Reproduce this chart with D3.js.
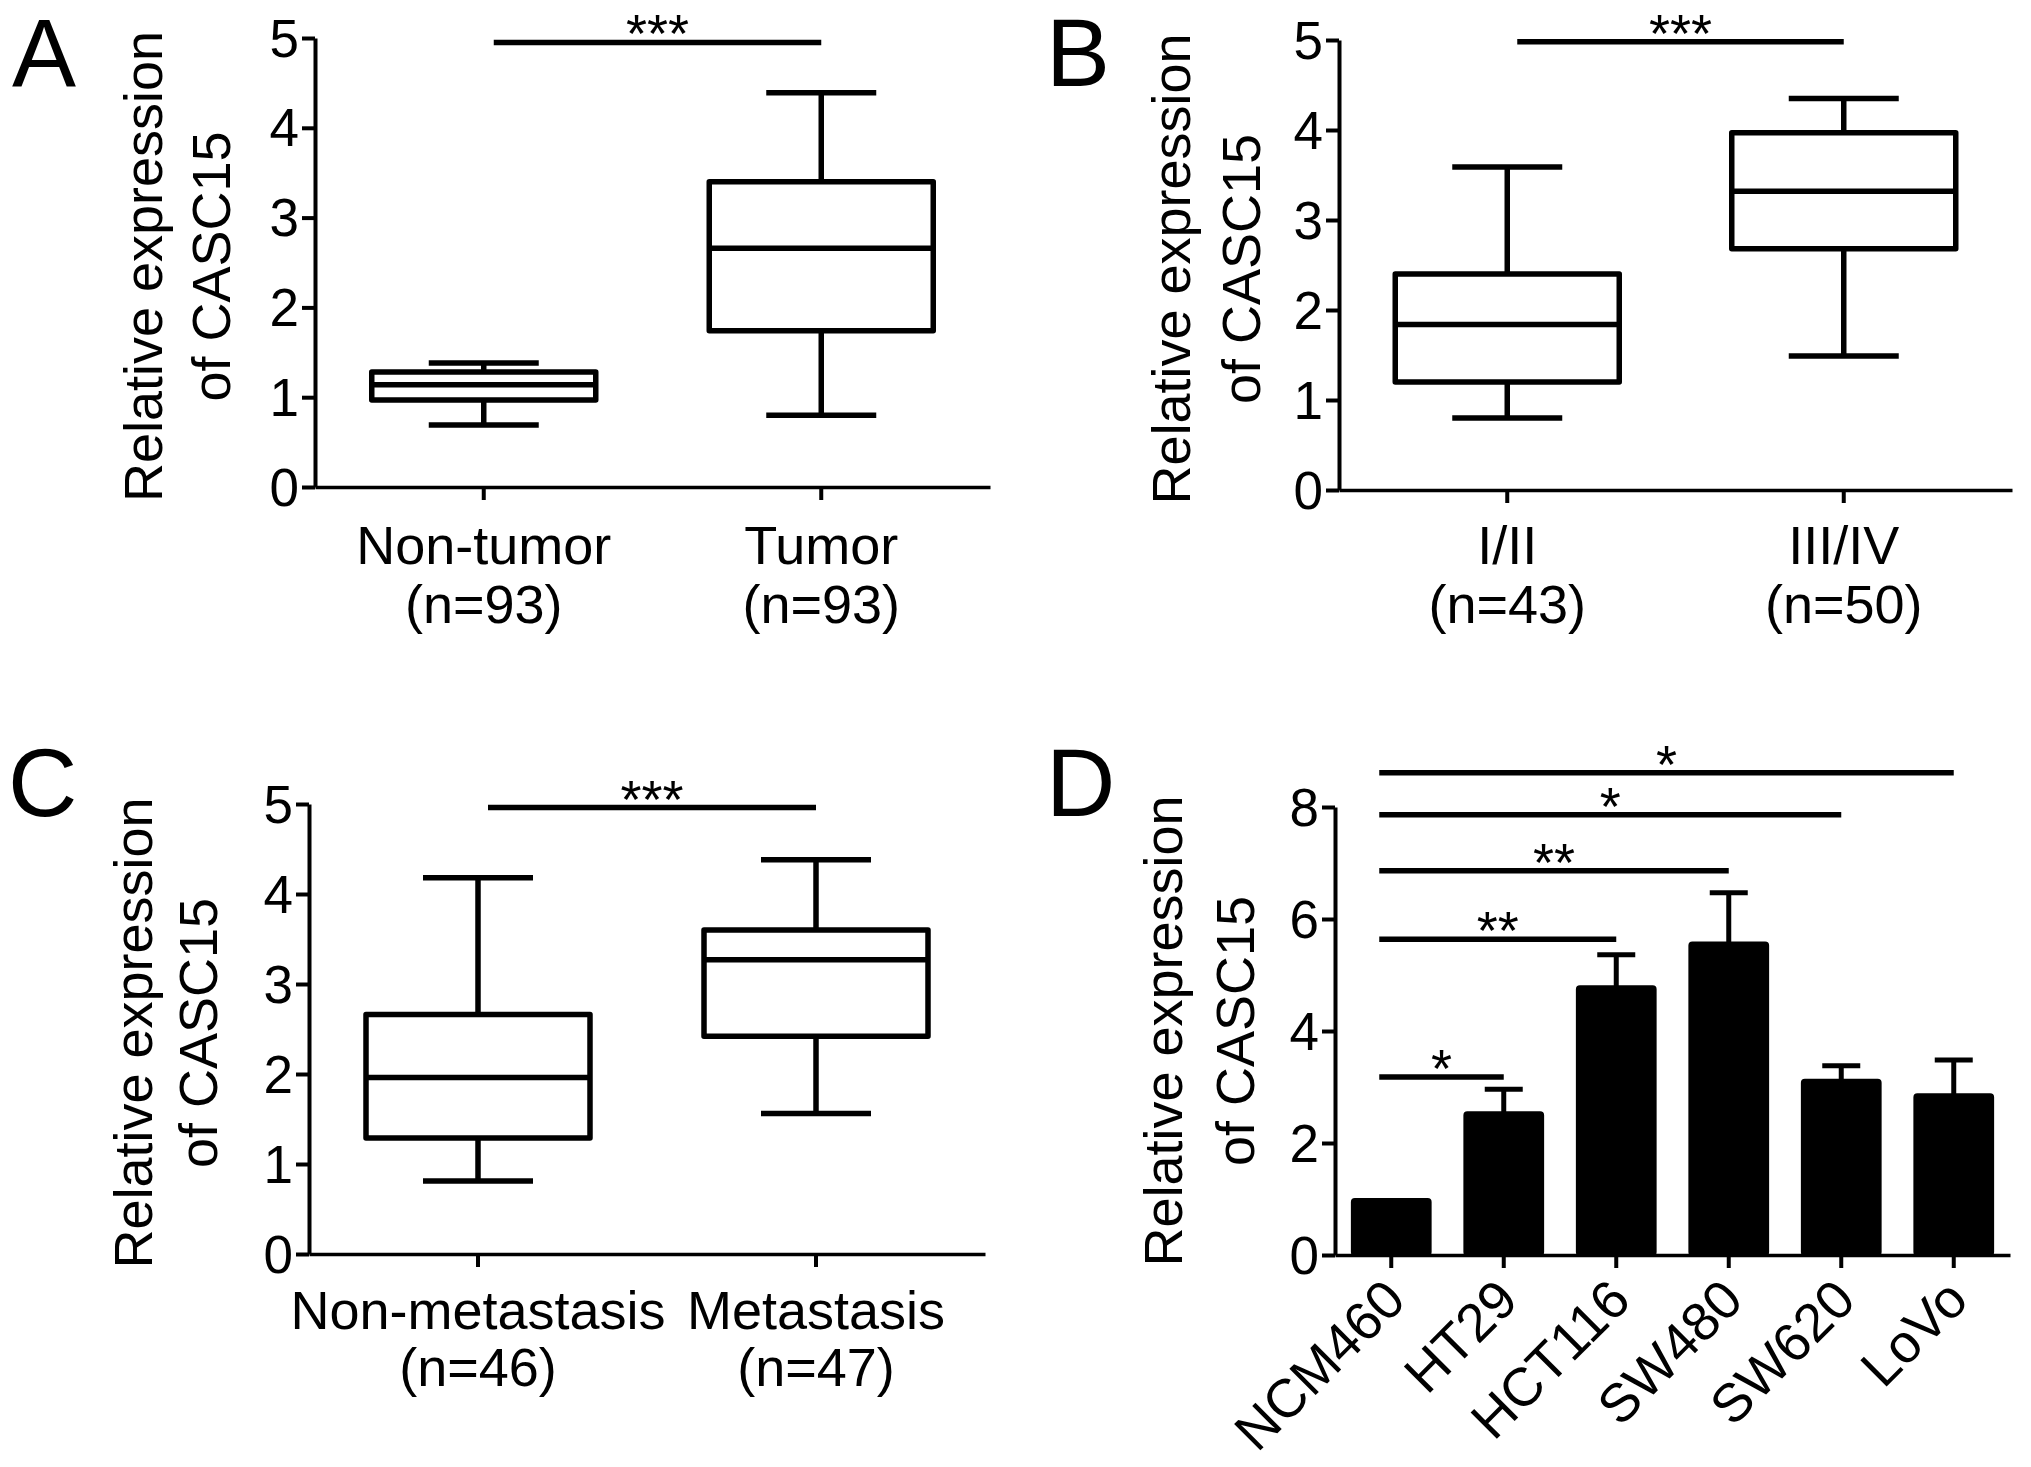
<!DOCTYPE html>
<html>
<head>
<meta charset="utf-8">
<script src="https://cdn.jsdelivr.net/npm/d3@7"></script>
<style>
  html, body { margin: 0; padding: 0; background: #fff; }
  svg { display: block; }
  text { font-family: "Liberation Sans", Arial, Helvetica, sans-serif; fill: #000; }
</style>
</head>
<body>
<svg id="chart" width="2031" height="1467"></svg>
<script>
// ---------------- DATA ----------------
// Box plots: [whiskerLow, Q1, median, Q3, whiskerHigh]
const catsA = ["Non-tumor", "Tumor"];
const nA = ["(n=93)", "(n=93)"];
const boxesA = [[0.69, 0.97, 1.14, 1.28, 1.38], [0.80, 1.74, 2.66, 3.40, 4.39]];
const sigA = { value: 4.95, label: "***" };

const catsB = ["I/II", "III/IV"];
const nB = ["(n=43)", "(n=50)"];
const boxesB = [[0.80, 1.20, 1.84, 2.40, 3.59], [1.49, 2.68, 3.32, 3.97, 4.35]];
const sigB = { value: 4.98, label: "***" };

const catsC = ["Non-metastasis", "Metastasis"];
const nC = ["(n=46)", "(n=47)"];
const boxesC = [[0.81, 1.29, 1.96, 2.66, 4.18], [1.56, 2.42, 3.27, 3.60, 4.38]];
const sigC = { value: 4.96, label: "***" };

const ticksABC = [0, 1, 2, 3, 4, 5];

const catsD = ["NCM460", "HT29", "HCT116", "SW480", "SW620", "LoVo"];
const meansD = [1.00, 2.55, 4.80, 5.58, 3.13, 2.87];
const semD = [0, 0.41, 0.56, 0.89, 0.25, 0.61];
const sigTargetsD = ["HT29", "HCT116", "SW480", "SW620", "LoVo"];
const sigValuesD = [3.18, 5.64, 6.86, 7.86, 8.61];
const sigLabelsD = ["*", "**", "**", "*", "*"];
const ticksD = [0, 2, 4, 6, 8];

const yTitle1 = "Relative expression";
const yTitle2 = "of CASC15";

// ---------------- DRAWING ----------------
const svg = d3.select("#chart");
const FS = 54;    // labels
const FT = 53;    // tick labels
const FSR = 54;   // rotated title
const LW = 5.5;   // box / significance line width

function htext(g, x, y, str, size, anchor) {
  return g.append("text")
    .attr("x", x).attr("y", y)
    .attr("text-anchor", anchor || "middle")
    .style("font-size", size + "px")
    .text(str);
}

function yAxis(g, y, x0, ticks) {
  const ax = g.append("g").attr("transform", `translate(${x0},0)`)
    .call(d3.axisLeft(y).tickValues(ticks).tickSize(13).tickSizeOuter(0).tickPadding(4).tickFormat(d3.format("d")));
  ax.attr("font-family", null).attr("font-size", null);
  ax.select(".domain").attr("stroke", "#000").attr("stroke-width", 4);
  ax.selectAll(".tick line").attr("stroke", "#000").attr("stroke-width", 4);
  ax.selectAll(".tick text")
    .attr("x", -16).attr("dy", "0.34em")
    .style("font-size", FT + "px").attr("fill", "#000");
  return ax;
}

function xAxis(g, x, y0) {
  const ax = g.append("g").attr("transform", `translate(0,${y0})`)
    .call(d3.axisBottom(x).tickSize(13).tickSizeOuter(0).tickFormat(""));
  ax.select(".domain").attr("stroke", "#000").attr("stroke-width", 3.5);
  ax.selectAll(".tick line").attr("stroke", "#000").attr("stroke-width", 4);
  return ax;
}

function yTitles(g, xb1, xb2, cy) {
  g.append("text").attr("transform", `translate(${xb1},${cy}) rotate(-90)`)
    .attr("text-anchor", "middle").style("font-size", FSR + "px").text(yTitle1);
  g.append("text").attr("transform", `translate(${xb2},${cy}) rotate(-90)`)
    .attr("text-anchor", "middle").style("font-size", FSR + "px").text(yTitle2);
}

function boxPanel(L, cats, ns, boxes, sig) {
  const g = svg.append("g");
  const x = d3.scaleBand().domain(cats).range([L.x0, L.x1]).padding(0);
  const y = d3.scaleLinear().domain([0, 5]).range([L.y0, L.y5]);
  const cx = d => x(d) + x.bandwidth() / 2;
  const BW = 112, CW = 55;

  yAxis(g, y, L.x0, ticksABC);
  xAxis(g, x, L.y0);

  const bx = g.selectAll("g.box").data(cats.map((c, i) => ({ c, b: boxes[i] }))).join("g")
    .attr("fill", "none").attr("stroke", "#000").attr("stroke-width", LW)
    .attr("stroke-linejoin", "round");
  bx.append("line").attr("x1", d => cx(d.c)).attr("x2", d => cx(d.c))
    .attr("y1", d => y(d.b[0])).attr("y2", d => y(d.b[1]));
  bx.append("line").attr("x1", d => cx(d.c)).attr("x2", d => cx(d.c))
    .attr("y1", d => y(d.b[3])).attr("y2", d => y(d.b[4]));
  bx.append("line").attr("x1", d => cx(d.c) - CW).attr("x2", d => cx(d.c) + CW)
    .attr("y1", d => y(d.b[0])).attr("y2", d => y(d.b[0]));
  bx.append("line").attr("x1", d => cx(d.c) - CW).attr("x2", d => cx(d.c) + CW)
    .attr("y1", d => y(d.b[4])).attr("y2", d => y(d.b[4]));
  bx.append("rect").attr("x", d => cx(d.c) - BW).attr("width", 2 * BW)
    .attr("y", d => y(d.b[3])).attr("height", d => y(d.b[1]) - y(d.b[3])).attr("fill", "#fff");
  bx.append("line").attr("x1", d => cx(d.c) - BW).attr("x2", d => cx(d.c) + BW)
    .attr("y1", d => y(d.b[2])).attr("y2", d => y(d.b[2]));

  cats.forEach((c, i) => {
    htext(g, cx(c), L.lab1, c, FS, "middle");
    htext(g, cx(c), L.lab2, ns[i], FS, "middle");
  });

  const sx1 = cx(cats[0]) + 10, sx2 = cx(cats[1]);
  g.append("line").attr("x1", sx1).attr("x2", sx2).attr("y1", y(sig.value)).attr("y2", y(sig.value))
    .attr("stroke", "#000").attr("stroke-width", LW);
  htext(g, (sx1 + sx2) / 2, y(sig.value) + 10, sig.label, FS, "middle");

  yTitles(g, L.t1, L.t2, (L.y0 + L.y5) / 2 + 4);
  g.append("text").attr("x", L.lx).attr("y", L.ly).style("font-size", "96px").text(L.letter);
}

boxPanel({ x0: 315, x1: 990, y0: 487, y5: 38, lab1: 564, lab2: 623, t1: 162, t2: 230, lx: 12, ly: 86, letter: "A" },
  catsA, nA, boxesA, sigA);
boxPanel({ x0: 1339, x1: 2012, y0: 490, y5: 40, lab1: 564, lab2: 623, t1: 1190, t2: 1260, lx: 1046, ly: 86, letter: "B" },
  catsB, nB, boxesB, sigB);
boxPanel({ x0: 309, x1: 985, y0: 1254, y5: 804, lab1: 1329, lab2: 1386, t1: 152, t2: 217, lx: 8, ly: 816, letter: "C" },
  catsC, nC, boxesC, sigC);

// Panel D: bar chart
(function () {
  const L = { x0: 1335, x1: 2010, y0: 1255, y8: 807 };
  const g = svg.append("g");
  const x = d3.scaleBand().domain(catsD).range([L.x0, L.x1]).paddingInner(0.3).paddingOuter(0.15);
  const y = d3.scaleLinear().domain([0, 8]).range([L.y0, L.y8]);
  const cx = d => x(d) + x.bandwidth() / 2;

  yAxis(g, y, L.x0, ticksD);
  xAxis(g, x, L.y0);

  const data = catsD.map((c, i) => ({ c, m: meansD[i], e: semD[i] }));
  const eb = g.selectAll("g.err").data(data.filter(d => d.e > 0)).join("g")
    .attr("stroke", "#000").attr("stroke-width", 5);
  eb.append("line").attr("x1", d => cx(d.c)).attr("x2", d => cx(d.c))
    .attr("y1", d => y(d.m)).attr("y2", d => y(d.m + d.e));
  eb.append("line").attr("x1", d => cx(d.c) - 19).attr("x2", d => cx(d.c) + 19)
    .attr("y1", d => y(d.m + d.e)).attr("y2", d => y(d.m + d.e));

  g.selectAll("rect.bar").data(data).join("rect")
    .attr("x", d => x(d.c)).attr("width", x.bandwidth())
    .attr("y", d => y(d.m)).attr("height", d => y(0) - y(d.m))
    .attr("rx", 3).attr("fill", "#000").attr("stroke", "#000").attr("stroke-width", 2);

  catsD.forEach(c => {
    g.append("text")
      .attr("transform", `translate(${cx(c) - 10},${L.y0 + 21}) rotate(-45)`)
      .attr("text-anchor", "end").attr("dy", "0.7em")
      .style("font-size", "54px").text(c);
  });

  const x0s = cx(catsD[0]) - 12;
  sigTargetsD.forEach((t, i) => {
    const yy = y(sigValuesD[i]);
    g.append("line").attr("x1", x0s).attr("x2", cx(t)).attr("y1", yy).attr("y2", yy)
      .attr("stroke", "#000").attr("stroke-width", LW);
    htext(g, (x0s + cx(t)) / 2, yy + 10, sigLabelsD[i], FS, "middle");
  });

  yTitles(g, 1182, 1254, (L.y0 + L.y8) / 2);
  g.append("text").attr("x", 1046).attr("y", 816).style("font-size", "96px").text("D");
})();
</script>
</body>
</html>
